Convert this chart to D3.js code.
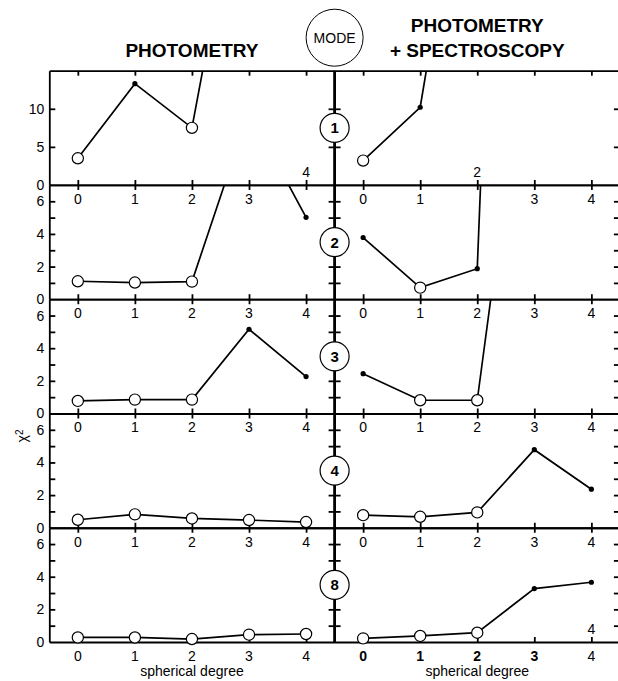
<!DOCTYPE html>
<html>
<head>
<meta charset="utf-8">
<script src="https://cdn.jsdelivr.net/npm/d3@7"></script>
<style>
  body { margin: 0; background: #fff; }
  text { font-family: "Liberation Sans", Arial, sans-serif; fill: #000; }
</style>
</head>
<body>
<div id="chart"></div>
<script>
// chart values
var degrees = [0, 1, 2, 3, 4];
var modes = ["1", "2", "3", "4", "8"];
var yMax = [15, 7, 7, 7, 7];
var yTickValues = [[5, 10], [1, 2, 3, 4, 5, 6], [1, 2, 3, 4, 5, 6], [1, 2, 3, 4, 5, 6], [1, 2, 3, 4, 5, 6]];
var yTickLabels = [[0, 5, 10], [0, 2, 4, 6], [0, 2, 4, 6], [0, 2, 4, 6], [0, 2, 4, 6]];

// photometry only (null = not shown)
var photValues = [
  [3.5, 13.3, 7.5, 47.5, null],
  [1.10, 1.02, 1.08, 11.5, 5.02],
  [0.77, 0.85, 0.85, 5.16, 2.26],
  [0.49, 0.82, 0.57, 0.47, 0.35],
  [0.28, 0.28, 0.18, 0.45, 0.49]
];
var photMarks = [
  ["o", "f", "o", "f", "f"],
  ["o", "o", "o", "f", "f"],
  ["o", "o", "o", "f", "f"],
  ["o", "o", "o", "o", "o"],
  ["o", "o", "o", "o", "o"]
];

// photometry + spectroscopy
var specValues = [
  [3.2, 10.2, 55, null, null],
  [3.78, 0.71, 1.87, 90, null],
  [2.44, 0.81, 0.81, 27, null],
  [0.77, 0.67, 0.94, 4.78, 2.36],
  [0.22, 0.37, 0.57, 3.27, 3.66]
];
var specMarks = [
  ["o", "f", "f", "f", "f"],
  ["f", "o", "f", "f", "f"],
  ["f", "o", "o", "f", "f"],
  ["o", "o", "o", "f", "f"],
  ["o", "o", "o", "f", "f"]
];

// tick labels that sit above their line instead of below it: [row, side, degree]
var raisedTopLabels = [[1, 0, 4], [1, 1, 2]];
var extraBottomLabels = [[4, 1, 4]];
var boldBottomLabels = [[], [0, 1, 2, 3]];

var svgWidth = 618;
var svgHeight = 681;
var left0 = 49.3;
var top0 = 70.7;
var panelW = 285.3;
var rowH = 114.26;

var svg = d3.select("#chart")
  .append("svg")
  .attr("width", svgWidth)
  .attr("height", svgHeight);

var xScale = d3.scaleLinear().domain([-0.5, 4.5]).range([0, panelW]);

var line = d3.line()
  .defined(function (d) { return d !== null; })
  .x(function (d, i) { return xScale(degrees[i]); });

var sides = [
  { values: photValues, marks: photMarks },
  { values: specValues, marks: specMarks }
];

modes.forEach(function (mode, r) {
  var yScale = d3.scaleLinear().domain([0, yMax[r]]).range([rowH, 0]);

  sides.forEach(function (side, s) {
    var g = svg.append("g")
      .attr("transform", `translate(${left0 + s * panelW}, ${top0 + r * rowH})`);

    // frame with inward ticks
    g.append("g").call(d3.axisBottom(xScale).tickValues(degrees).tickSize(5).tickSizeOuter(0).tickFormat(""));
    g.append("g").attr("transform", `translate(0, ${rowH})`)
      .call(d3.axisTop(xScale).tickValues(degrees).tickSize(5).tickSizeOuter(0).tickFormat(""));
    g.append("g").call(d3.axisRight(yScale).tickValues(yTickValues[r]).tickSize(6).tickSizeOuter(0).tickFormat(""));
    g.append("g").attr("transform", `translate(${panelW}, 0)`)
      .call(d3.axisLeft(yScale).tickValues(yTickValues[r]).tickSize(6).tickSizeOuter(0).tickFormat(""));
    g.selectAll(".domain, .tick line").attr("stroke", "#000").attr("stroke-width", 1.8);

    // y labels on the far left only
    if (s === 0) {
      var yl = g.append("g")
        .call(d3.axisLeft(yScale).tickValues(yTickLabels[r]).tickFormat(d3.format("d")).tickSize(0).tickPadding(5));
      yl.select(".domain").remove();
      yl.selectAll("text").style("font-size", "14px").attr("fill", "#000");
    }

    // degree labels under the top edge (rows 2-5)
    if (r > 0) {
      g.selectAll("text.xl")
        .data(degrees)
        .enter()
        .append("text")
        .attr("class", "xl")
        .attr("text-anchor", "middle")
        .style("font-size", "14px")
        .attr("x", function (d) { return xScale(d); })
        .attr("y", function (d) {
          var up = raisedTopLabels.some(function (t) { return t[0] === r && t[1] === s && t[2] === d; });
          return up ? -7.5 : 19;
        })
        .text(function (d) { return d; });
    }

    // bottom labels
    if (r === modes.length - 1) {
      g.selectAll("text.bl")
        .data(degrees)
        .enter()
        .append("text")
        .attr("class", "bl")
        .attr("text-anchor", "middle")
        .style("font-size", "14px")
        .style("font-weight", function (d) { return boldBottomLabels[s].indexOf(d) >= 0 ? "bold" : "normal"; })
        .attr("x", function (d) { return xScale(d); })
        .attr("y", rowH + 19.5)
        .text(function (d) { return d; });

      g.append("text")
        .attr("text-anchor", "middle")
        .style("font-size", "14px")
        .attr("x", xScale(2))
        .attr("y", rowH + 34)
        .text("spherical degree");
    }
    extraBottomLabels.forEach(function (t) {
      if (t[0] === r && t[1] === s) {
        g.append("text")
          .attr("text-anchor", "middle")
          .style("font-size", "14px")
          .attr("x", xScale(t[2]))
          .attr("y", rowH - 7.7)
          .text(t[2]);
      }
    });

    // data line, clipped to the panel
    var clipId = `clip-${r}-${s}`;
    g.append("clipPath").attr("id", clipId)
      .append("rect").attr("width", panelW).attr("height", rowH);

    g.append("path")
      .datum(side.values[r])
      .attr("clip-path", `url(#${clipId})`)
      .attr("fill", "none")
      .attr("stroke", "#000")
      .attr("stroke-width", 1.7)
      .attr("d", line.y(function (d) { return yScale(d); }));

    var pts = side.values[r]
      .map(function (v, i) { return { deg: degrees[i], v: v, m: side.marks[r][i] }; })
      .filter(function (p) { return p.v !== null && p.v <= yMax[r]; });

    g.selectAll("circle.pt")
      .data(pts)
      .enter()
      .append("circle")
      .attr("class", "pt")
      .attr("cx", function (p) { return xScale(p.deg); })
      .attr("cy", function (p) { return yScale(p.v); })
      .attr("r", function (p) { return p.m === "o" ? 5.6 : 2.6; })
      .attr("fill", function (p) { return p.m === "o" ? "#fff" : "#000"; })
      .attr("stroke", "#000")
      .attr("stroke-width", function (p) { return p.m === "o" ? 1.2 : 0; });
  });
});

// centre divider and mode badges
var cx = left0 + panelW;
svg.append("line")
  .attr("x1", cx).attr("x2", cx)
  .attr("y1", top0).attr("y2", top0 + modes.length * rowH)
  .attr("stroke", "#000")
  .attr("stroke-width", 2.8);

modes.forEach(function (mode, r) {
  var cy = top0 + r * rowH + rowH / 2;
  svg.append("circle")
    .attr("cx", cx).attr("cy", cy).attr("r", 14.5)
    .attr("fill", "#fff").attr("stroke", "#000").attr("stroke-width", 1.2);
  svg.append("text")
    .attr("x", cx).attr("y", cy + 5.5)
    .attr("text-anchor", "middle")
    .style("font-size", "15px")
    .style("font-weight", "bold")
    .text(mode);
});

svg.append("circle")
  .attr("cx", cx).attr("cy", 37.7).attr("r", 28.5)
  .attr("fill", "#fff").attr("stroke", "#000").attr("stroke-width", 1);
svg.append("text")
  .attr("x", cx).attr("y", 42.7)
  .attr("text-anchor", "middle")
  .style("font-size", "14px")
  .text("MODE");

// headers
svg.append("text")
  .attr("x", left0 + panelW / 2).attr("y", 57)
  .attr("text-anchor", "middle")
  .style("font-size", "19px").style("font-weight", "bold")
  .text("PHOTOMETRY");
svg.append("text")
  .attr("x", cx + xScale(2)).attr("y", 32)
  .attr("text-anchor", "middle")
  .style("font-size", "19px").style("font-weight", "bold")
  .text("PHOTOMETRY");
svg.append("text")
  .attr("x", cx + xScale(2)).attr("y", 57)
  .attr("text-anchor", "middle")
  .style("font-size", "19px").style("font-weight", "bold")
  .text("+ SPECTROSCOPY");

// y axis title
var yTitle = svg.append("text")
  .attr("transform", "translate(27, 436) rotate(-90)")
  .attr("text-anchor", "middle")
  .style("font-size", "14px");
yTitle.append("tspan").text("\u03c7");
yTitle.append("tspan").attr("dy", "-0.45em").style("font-size", "10px").text("2");
</script>
</body>
</html>
